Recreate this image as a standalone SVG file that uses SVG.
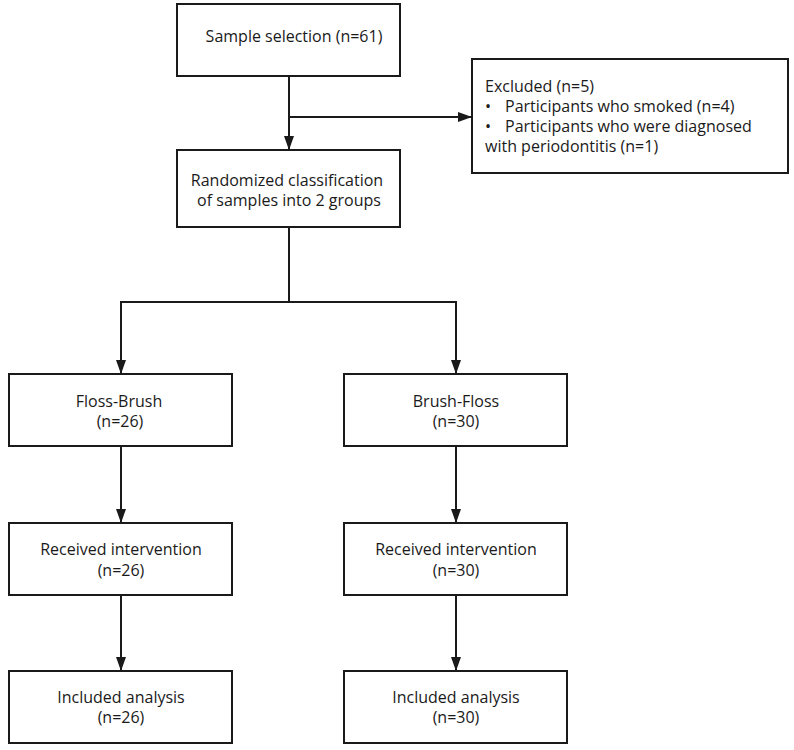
<svg xmlns="http://www.w3.org/2000/svg" width="794" height="750" viewBox="0 0 794 750">
<style>
.box{fill:#fff;stroke:#1a1a1a;stroke-width:2}
.t{font-family:"Open Sans","Noto Sans",sans-serif;font-size:16px;fill:#1a1a1a}
.m{text-anchor:middle}
.c{fill:none;stroke:#1a1a1a;stroke-width:2}
</style>
<defs>
<marker id="ah" markerUnits="userSpaceOnUse" markerWidth="14" markerHeight="10" refX="14" refY="5" orient="auto">
<path d="M0,0 L14,5 L0,10 z" fill="#1a1a1a"/>
</marker>
</defs>
<rect width="794" height="750" fill="#fff"/>
<g id="connectors">
<path class="c" d="M289,76 V150" marker-end="url(#ah)"/>
<path class="c" d="M289,117 H472" marker-end="url(#ah)"/>
<path class="c" d="M289,227 V302"/>
<path class="c" d="M121,302 H456"/>
<path class="c" d="M121,301 V374" marker-end="url(#ah)"/>
<path class="c" d="M456,301 V374" marker-end="url(#ah)"/>
<path class="c" d="M121,446 V523" marker-end="url(#ah)"/>
<path class="c" d="M456,446 V523" marker-end="url(#ah)"/>
<path class="c" d="M121,595 V671" marker-end="url(#ah)"/>
<path class="c" d="M456,595 V671" marker-end="url(#ah)"/>
</g>
<g id="sample">
<rect class="box" x="177" y="4" width="223" height="72"/>
<text class="t m" x="294" y="42">Sample selection (n=61)</text>
</g>
<g id="excluded">
<rect class="box" x="472" y="59" width="316" height="114"/>
<text class="t" x="485" y="92">Excluded (n=5)</text>
<text class="t" y="112"><tspan x="485">•</tspan><tspan x="505">Participants who smoked (n=4)</tspan></text>
<text class="t" y="132"><tspan x="485">•</tspan><tspan x="505">Participants who were diagnosed</tspan></text>
<text class="t" x="485" y="152">with periodontitis (n=1)</text>
</g>
<g id="randomized">
<rect class="box" x="177" y="150" width="223" height="77"/>
<text class="t m" x="287" y="186">Randomized classification</text>
<text class="t m" x="289" y="206">of samples into 2 groups</text>
</g>
<g id="floss-brush">
<rect class="box" x="9" y="374" width="223" height="72"/>
<text class="t m" x="119" y="407">Floss-Brush</text>
<text class="t m" x="120" y="427">(n=26)</text>
</g>
<g id="brush-floss">
<rect class="box" x="344" y="374" width="223" height="72"/>
<text class="t m" x="456" y="407">Brush-Floss</text>
<text class="t m" x="456" y="427">(n=30)</text>
</g>
<g id="received-1">
<rect class="box" x="9" y="523" width="223" height="72"/>
<text class="t m" x="121" y="555">Received intervention</text>
<text class="t m" x="121" y="576">(n=26)</text>
</g>
<g id="received-2">
<rect class="box" x="344" y="523" width="223" height="72"/>
<text class="t m" x="456" y="555">Received intervention</text>
<text class="t m" x="456" y="576">(n=30)</text>
</g>
<g id="included-1">
<rect class="box" x="9" y="671" width="223" height="72"/>
<text class="t m" x="121" y="703">Included analysis</text>
<text class="t m" x="121" y="723">(n=26)</text>
</g>
<g id="included-2">
<rect class="box" x="344" y="671" width="223" height="72"/>
<text class="t m" x="456" y="703">Included analysis</text>
<text class="t m" x="456" y="723">(n=30)</text>
</g>
</svg>
